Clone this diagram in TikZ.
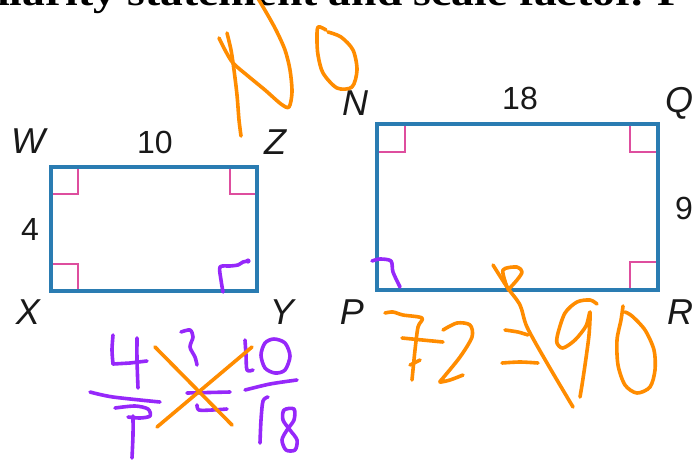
\documentclass[tikz,border=0pt]{standalone}
\usepackage{fontspec}
\usetikzlibrary{calc}
\setmainfont{Liberation Sans}
\newfontfamily\headfont{Liberation Serif}
\definecolor{rectblue}{RGB}{42,124,178}
\definecolor{markpink}{RGB}{222,78,158}
\definecolor{inkorange}{RGB}{255,140,0}
\definecolor{inkpurple}{RGB}{150,40,250}
\begin{document}
\begin{tikzpicture}[x=1pt,y=-1pt,
  rectline/.style={draw=rectblue, line width=3.1pt},
  rightmark/.style={draw=markpink, line width=1.5pt},
  lbl/.style={font=\fontsize{36}{36}\selectfont\itshape, inner sep=0pt, text=black!90},
  num/.style={font=\fontsize{32}{32}\selectfont, inner sep=0pt, text=black!90},
  ink/.style={line width=3.6pt, line cap=round, line join=round},
  orangeink/.style={ink, draw=inkorange},
  purpleink/.style={ink, draw=inkpurple}]
\useasboundingbox (0,0) rectangle (693,459);
\clip (0,0) rectangle (693,459);
\fill[white] (0,0) rectangle (693,459);

% header (cut off at the top)
\node[anchor=base west, inner sep=0pt, font=\headfont\bfseries\fontsize{38}{38}\selectfont] (head) at (-3,5)
  {\scalebox{1.2}[1]{ilarity statement and scale factor. F}};

% rectangle WZYX
\coordinate (W) at (51,167); \coordinate (Z) at (257,167);
\coordinate (Y) at (257,291); \coordinate (X) at (51,291);
\draw[rightmark] ($(W)+(0,27)$) -- ++(27,0) -- ++(0,-27);
\draw[rightmark] ($(Z)+(0,27)$) -- ++(-27,0) -- ++(0,-27);
\draw[rightmark] ($(X)+(0,-27)$) -- ++(27,0) -- ++(0,27);
\draw[rectline] (W) -- (Z) -- (Y) -- (X) -- cycle;

% rectangle NQRP
\coordinate (N) at (377,124); \coordinate (Q) at (658,124);
\coordinate (R) at (658,290); \coordinate (P) at (377,290);
\draw[rightmark] ($(N)+(0,28)$) -- ++(28,0) -- ++(0,-28);
\draw[rightmark] ($(Q)+(0,28)$) -- ++(-28,0) -- ++(0,-28);
\draw[rightmark] ($(R)+(0,-28)$) -- ++(-28,0) -- ++(0,28);
\draw[rectline] (N) -- (Q) -- (R) -- (P) -- cycle;

% labels
\node[lbl] (lW) at (28,141) {W};
\node[num] (l10) at (155,142) {10};
\node[lbl] (lZ) at (275,142) {Z};
\node[num] (l4) at (30,229) {4};
\node[lbl] (lX) at (28,312) {X};
\node[lbl] (lY) at (282,312) {Y};
\node[lbl] (lN) at (355,103) {N};
\node[num] (l18) at (520,98) {18};
\node[lbl] (lQ) at (679,103) {Q};
\node[num] (l9) at (684,208) {9};
\node[lbl] (lP) at (352,312) {P};
\node[lbl] (lR) at (680,312) {R};

% orange "NO"
\draw[orangeink] plot[smooth] coordinates {(227,33) (231,50) (234,70) (237,95) (239,120) (241,136)};
\draw[orangeink] plot[smooth] coordinates {(219,38) (225,50) (233,63) (248,76) (265,90) (281,104) (289,107) (292,92) (290,70) (285,50) (276,30) (266,12) (256,-5)};
\draw[orangeink] plot[smooth] coordinates {(326,30) (318,27) (317,40) (318,55) (323,73) (337,88) (352,87) (357,70) (353,50) (341,37) (328,32)};

% purple corner scribbles
\draw[purpleink] plot[smooth] coordinates {(223,292) (221,280) (220,267) (230,266) (238,265) (243,262) (248,261)};
\fill[inkpurple] (248,261) circle (2.6);
\draw[purpleink] plot[smooth] coordinates {(372,261) (380,259) (391,261) (393,272) (400,287)};

% purple fractions  4/9 = 10/18
\draw[purpleink] plot[smooth] coordinates {(113,335) (112,350) (113,364)};
\draw[purpleink] (113,364) -- (130,363) -- (147,361);
\draw[purpleink] plot[smooth] coordinates {(137,338) (137,360) (138,388)};
\draw[purpleink] plot[smooth] coordinates {(90,392) (113,397) (160,402)};
\draw[purpleink] plot[smooth] coordinates {(115,408) (135,406) (148,409) (150,416) (140,418) (128,417)};
\draw[purpleink] plot[smooth] coordinates {(133,416) (133,435) (132,458)};
\draw[purpleink] plot[smooth] coordinates {(181,332) (190,330) (193,337) (190,347) (195,357) (197,365)};
\draw[purpleink] (187,393) -- (230,392);
\draw[purpleink] plot[smooth] coordinates {(197,405) (199,410) (212,410) (227,409)};
\draw[purpleink] plot[smooth] coordinates {(245,340) (246,355) (247,370) (253,370)};
\draw[purpleink] plot[smooth cycle] coordinates {(274,339) (285,343) (290,356) (285,370) (275,373) (265,368) (261,355) (265,343)};
\draw[purpleink] plot[smooth] coordinates {(245,390) (270,384) (297,380)};
\draw[purpleink] plot[smooth] coordinates {(268,397) (263,401) (261,420) (260,443)};
\draw[purpleink] plot[smooth cycle] coordinates {(284,410) (294,409) (294,420) (287,430) (282,440) (286,450) (295,450) (297,440) (290,430) (283,420)};

% orange cross
\draw[orangeink] (155,347) -- (232,425);
\draw[orangeink] (157,427) -- (252,347);

% orange 72 =/= 90
\draw[orangeink] plot[smooth] coordinates {(385,313) (393,312) (403,315) (422,318) (418,327) (415,350) (412,380)};
\draw[orangeink] (402,338) -- (443,342);
\draw[orangeink] (410,365) -- (420,360);
\draw[orangeink] plot[smooth] coordinates {(443,330) (457,323) (470,325) (472,337) (460,357) (443,378) (440,382) (450,380) (463,375)};
\draw[orangeink] plot[smooth] coordinates {(505,330) (518,332) (528,335)};
\draw[orangeink] plot[smooth] coordinates {(502,363) (520,362) (538,363)};
\draw[orangeink] plot[smooth] coordinates {(493,265) (507,287) (520,305) (527,327) (547,363) (573,407)};
\draw[orangeink] plot[smooth] coordinates {(507,287) (503,270) (517,267) (522,272) (517,280) (508,290)};
\draw[orangeink] plot[smooth] coordinates {(597,304) (590,300) (577,302) (565,313) (558,333) (557,343) (563,348) (575,340) (586,326) (590,312) (589,335) (585,365) (582,385) (580,397)};
\draw[orangeink] plot[smooth] coordinates {(623,306) (621,320) (617,340) (618,365) (625,385) (637,393) (650,387) (655,370) (654,350) (645,330) (632,316) (625,312)};
\end{tikzpicture}
\end{document}
